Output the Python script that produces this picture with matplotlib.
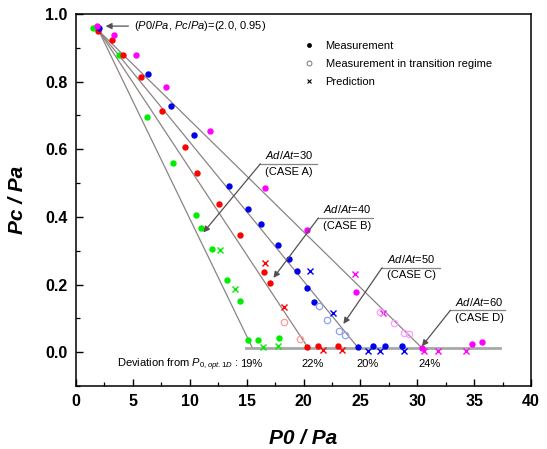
import numpy as np
import matplotlib.pyplot as plt
from matplotlib.lines import Line2D

plt.rcParams['font.family'] = ['Liberation Sans', 'DejaVu Sans']
plt.rcParams['mathtext.fontset'] = 'custom'
plt.rcParams['mathtext.it'] = 'Liberation Sans:italic'
plt.rcParams['mathtext.rm'] = 'Liberation Sans'

# common start point of the prediction lines
p0_start = 2.0
pc_start = 0.95

# where each case line meets the baseline
case_names = ['A', 'B', 'C', 'D']
area_ratios = [30, 40, 50, 60]
line_ends = [15.5, 20.4, 24.8, 30.4]
baseline_y = 0.013
deviations = ['19%', '22%', '20%', '24%']
deviation_x = [15.4, 20.8, 25.6, 31.1]

# measurement (filled), prediction (x), transition regime (open)
green_meas_x = [1.52, 3.81, 6.21, 8.5, 10.52, 11.02, 11.99, 13.25, 14.45, 15.15, 15.97, 17.87]
green_meas_y = [0.958, 0.878, 0.695, 0.559, 0.405, 0.367, 0.306, 0.215, 0.151, 0.035, 0.035, 0.042]
green_pred_x = [12.66, 13.95, 16.47, 17.76]
green_pred_y = [0.302, 0.188, 0.017, 0.019]

red_meas_x = [1.9, 3.14, 4.16, 5.71, 7.53, 9.6, 10.6, 12.57, 14.39, 16.53, 17.03, 20.3, 21.27, 23.0]
red_meas_y = [0.95, 0.923, 0.878, 0.814, 0.712, 0.608, 0.53, 0.437, 0.348, 0.238, 0.206, 0.016, 0.019, 0.02]
red_pred_x = [16.64, 18.32, 21.74, 23.4]
red_pred_y = [0.263, 0.134, 0.008, 0.008]
red_open_x = [18.32, 19.72]
red_open_y = [0.091, 0.04]

blue_meas_x = [2.02, 6.3, 8.32, 10.34, 13.45, 15.12, 16.24, 17.76, 18.75, 19.46, 20.34, 20.92,
               24.8, 26.08, 27.16, 28.63]
blue_meas_y = [0.958, 0.822, 0.727, 0.642, 0.492, 0.424, 0.38, 0.318, 0.275, 0.239, 0.191, 0.15,
               0.015, 0.018, 0.018, 0.02]
blue_pred_x = [20.57, 22.62, 25.7, 26.7, 28.86]
blue_pred_y = [0.24, 0.115, 0.005, 0.005, 0.005]
blue_open_x = [21.36, 22.04, 23.12, 23.65]
blue_open_y = [0.137, 0.095, 0.064, 0.052]

mag_meas_x = [1.87, 3.34, 5.25, 7.88, 11.78, 16.6, 20.28, 24.6, 30.4, 34.8, 35.66]
mag_meas_y = [0.965, 0.938, 0.88, 0.784, 0.654, 0.486, 0.362, 0.179, 0.012, 0.026, 0.03]
mag_pred_x = [24.5, 26.96, 30.6, 31.85, 34.25]
mag_pred_y = [0.232, 0.117, 0.003, 0.003, 0.003]
mag_open_x = [26.73, 27.96, 28.84, 29.27]
mag_open_y = [0.12, 0.087, 0.057, 0.055]

# annotation geometry for the case labels: (tip x, tip y), (shelf x0, shelf x1, shelf y)
case_tips = [(11.19, 0.354), (17.35, 0.22), (23.5, 0.084), (30.4, 0.018)]
case_shelves = [(16.2, 21.2, 0.557), (21.3, 26.1, 0.397), (26.9, 32.0, 0.250), (32.9, 37.7, 0.124)]

fig = plt.figure(figsize=(5.47, 4.49), dpi=100)
ax = fig.add_axes([0.139, 0.140, 0.832, 0.829])

line_col = '#8c8383'
for xe in line_ends:
    ax.plot([p0_start, xe], [pc_start, baseline_y], color=line_col, lw=0.9, zorder=1)
ax.plot([14.9, 37.3], [baseline_y, baseline_y], color='#a8a8a8', lw=2.0, zorder=1)

ms = 4.6
series = [
    ('#00ee00', '#00ee00', green_meas_x, green_meas_y, green_pred_x, green_pred_y, [], []),
    ('#ff0000', '#ff9a9a', red_meas_x, red_meas_y, red_pred_x, red_pred_y, red_open_x, red_open_y),
    ('#0000ee', '#8fa0ee', blue_meas_x, blue_meas_y, blue_pred_x, blue_pred_y, blue_open_x, blue_open_y),
    ('#ff00ff', '#ff9cff', mag_meas_x, mag_meas_y, mag_pred_x, mag_pred_y, mag_open_x, mag_open_y),
]
for col, light, mx, my, px, py, ox, oy in series:
    ax.plot(mx, my, 'o', color=col, ms=ms, mec='none', zorder=3)
    ax.plot(px, py, 'x', color=col, ms=5, mew=1.0, zorder=3)
    if ox:
        ax.plot(ox, oy, 'o', mfc='none', mec=light, ms=ms, mew=0.9, zorder=3)

# case labels
for name, ar, tip, shelf in zip(case_names, area_ratios, case_tips, case_shelves):
    x0, x1, sy = shelf
    ax.plot([x0, x1], [sy, sy], color=line_col, lw=0.9)
    ax.annotate('', xy=tip, xytext=(x0, sy),
                arrowprops=dict(arrowstyle='-|>', color='#555050', lw=0.9,
                                mutation_scale=9, shrinkA=0, shrinkB=0))
    ax.text(x0 + 0.4, sy + 0.008, r'$Ad/At$=%d' % ar, fontsize=8, va='bottom', ha='left')
    ax.text(x0 + 0.4, sy - 0.008, '(CASE %s)' % name, fontsize=8, va='top', ha='left')

# start point annotation
ax.annotate('', xy=(2.6, 0.964), xytext=(4.6, 0.964),
            arrowprops=dict(arrowstyle='-|>', color='#555050', lw=0.9,
                            mutation_scale=9, shrinkA=0, shrinkB=0))
ax.text(5.1, 0.964, r'($P0/Pa$, $Pc/Pa$)=(2.0, 0.95)', fontsize=8, va='center', ha='left')

# deviation row
ax.text(3.6, -0.036, r'Deviation from $P_{0,opt.1D}$ :', fontsize=8, va='center', ha='left')
for dx, dv in zip(deviation_x, deviations):
    ax.text(dx, -0.036, dv, fontsize=8, va='center', ha='center')

# legend
handles = [
    Line2D([], [], ls='none', marker='o', color='black', ms=3.5, mec='none'),
    Line2D([], [], ls='none', marker='o', mfc='none', mec='#777777', ms=3.5, mew=0.7),
    Line2D([], [], ls='none', marker='x', color='black', ms=3.5, mew=0.8),
]
labels = ['Measurement', 'Measurement in transition regime', 'Prediction']
ax.legend(handles, labels, loc='upper left', bbox_to_anchor=(0.475, 0.955), frameon=False,
          fontsize=8, handlelength=1.2, handletextpad=0.9, labelspacing=0.75)

ax.set_xlim(0, 40)
ax.set_ylim(-0.1, 1.0)
ax.set_xticks(np.arange(0, 41, 5))
ax.set_xticks(np.arange(2.5, 40, 5), minor=True)
ax.set_yticks([0.0, 0.2, 0.4, 0.6, 0.8, 1.0])
ax.set_yticks([-0.1, 0.1, 0.3, 0.5, 0.7, 0.9], minor=True)
ax.set_yticklabels(['0.0', '0.2', '0.4', '0.6', '0.8', '1.0'])
ax.tick_params(which='major', direction='in', length=5, width=1.0, labelsize=11.5, pad=6)
ax.tick_params(which='minor', direction='in', length=3, width=0.9)
for lab in ax.get_xticklabels() + ax.get_yticklabels():
    lab.set_fontweight('bold')
for sp in ax.spines.values():
    sp.set_linewidth(1.1)

ax.set_xlabel('P0 / Pa', fontsize=15, fontweight='bold', style='italic', labelpad=14)
ax.set_ylabel('Pc / Pa', fontsize=15, fontweight='bold', style='italic', labelpad=13)

fig.savefig('out.png', dpi=100)
